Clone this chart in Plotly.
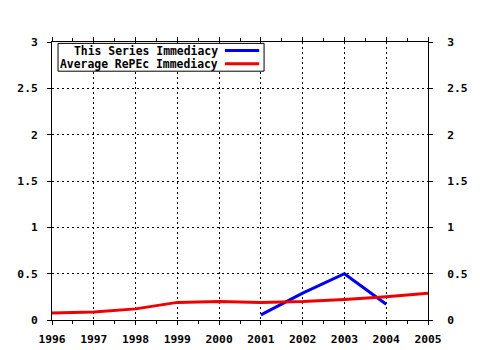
import plotly.graph_objects as go

years = [1996, 1997, 1998, 1999, 2000, 2001, 2002, 2003, 2004, 2005]
avg_repec = [0.075, 0.086, 0.12, 0.19, 0.20, 0.19, 0.20, 0.22, 0.25, 0.29]
series_years = [2001, 2002, 2003, 2004]
series_vals = [0.055, 0.29, 0.50, 0.17]
series_names = ["This Series Immediacy", "Average RePEc Immediacy"]
colors = ["#0000ee", "#ee0000"]

FONT = "DejaVu Sans Mono"
tickfont = dict(family=FONT, size=11.3, color="black", weight="bold")
GRIDDASH = "2px,3px"

fig = go.Figure()
fig.add_trace(go.Scatter(x=series_years, y=series_vals, mode="lines",
                         line=dict(color=colors[0], width=3), name=series_names[0],
                         showlegend=False))
fig.add_trace(go.Scatter(x=years, y=avg_repec, mode="lines", yaxis="y2",
                         line=dict(color=colors[1], width=3), name=series_names[1],
                         showlegend=False))

yrange = [0, 3]
fig.update_layout(
    width=480, height=350,
    margin=dict(l=52, r=52, t=42, b=30, autoexpand=False),
    paper_bgcolor="white", plot_bgcolor="white",
    xaxis=dict(range=[1996, 2005], dtick=1, tick0=1996, automargin=False,
               showgrid=True, gridcolor="black", griddash=GRIDDASH, gridwidth=1,
               showline=True, linecolor="black", linewidth=1, mirror="ticks",
               ticks="outside", ticklen=4, tickcolor="black", ticklabelstandoff=4,
               minor=dict(dtick=0.5, ticks="outside", ticklen=3, tickcolor="black", showgrid=False),
               tickfont=tickfont, zeroline=False),
    yaxis=dict(range=yrange, dtick=0.5, tick0=0, automargin=False,
               showgrid=True, gridcolor="black", griddash=GRIDDASH, gridwidth=1,
               showline=True, linecolor="black", linewidth=1,
               ticks="outside", ticklen=4, tickcolor="black", ticklabelstandoff=7,
               tickfont=tickfont, zeroline=False, tickformat="~g"),
    yaxis2=dict(range=yrange, dtick=0.5, tick0=0, overlaying="y", side="right", automargin=False,
                showgrid=False, showline=True, linecolor="black", linewidth=1,
                ticks="outside", ticklen=4, tickcolor="black", ticklabelstandoff=12,
                tickfont=tickfont, zeroline=False, tickformat="~g"),
)

# manual legend (symbols to the right of text)
y1, y2 = 0.969, 0.922
fig.add_shape(type="rect", xref="paper", yref="paper", x0=0.016, x1=0.564, y0=0.895, y1=0.995,
              line=dict(color="black", width=1), fillcolor="white", layer="above")
for yy, name, col in [(y1, series_names[0], colors[0]), (y2, series_names[1], colors[1])]:
    fig.add_shape(type="line", xref="paper", yref="paper", x0=0.460, x1=0.551, y0=yy, y1=yy,
                  line=dict(color=col, width=3), layer="above")
    fig.add_annotation(xref="paper", yref="paper", x=0.443, y=yy, text=name, showarrow=False,
                       xanchor="right", yanchor="middle", borderpad=0,
                       font=dict(family=FONT, size=11.4, color="black", weight="bold"))

fig.write_html("out.html")
